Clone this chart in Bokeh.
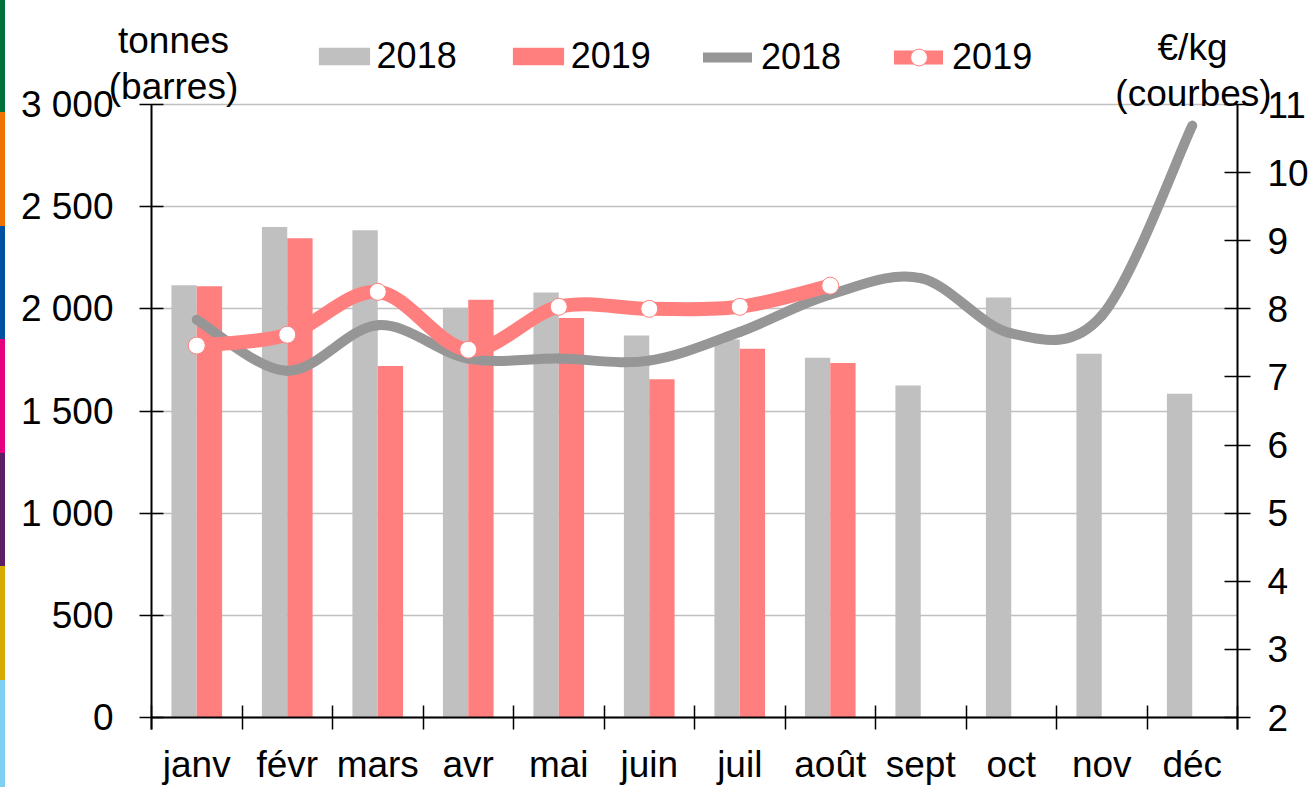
from bokeh.plotting import figure
from bokeh.models import (Range1d, LinearAxis, FixedTicker, Legend, LegendItem,
                          Label, ColumnDataSource)
from bokeh.embed import file_html
from bokeh.resources import INLINE

# ---------------- data ----------------
months = ["janv", "févr", "mars", "avr", "mai", "juin", "juil", "août",
          "sept", "oct", "nov", "déc"]
tonnes_2018 = [2115, 2400, 2385, 2005, 2080, 1870, 1850, 1760, 1625, 2055, 1780, 1585]
tonnes_2019 = [2110, 2345, 1720, 2045, 1955, 1655, 1805, 1735]
prix_2018 = [7.84, 7.09, 7.76, 7.27, 7.27, 7.24, 7.66, 8.21, 8.45, 7.64, 7.90, 10.69]
prix_2019 = [7.46, 7.62, 8.25, 7.40, 8.03, 8.00, 8.03, 8.34]
left_ticks = [0, 500, 1000, 1500, 2000, 2500, 3000]
left_labels = ["0", "500", "1 000", "1 500", "2 000", "2 500", "3 000"]
right_ticks = [2, 3, 4, 5, 6, 7, 8, 9, 10, 11]
series_labels = ["2018", "2019"]

FONT = "Liberation Sans"
GRAY_BAR = "#c0c0c0"
RED = "#ff7f7f"
GRAY_LINE = "#969696"

# ---------------- layout (pixels) ----------------
W, H = 1309, 787
AX_L, AX_R, AX_T, AX_B = 151, 1237, 104, 717   # where the axes sit on the canvas
N = len(months)
# The frame covers the whole canvas so that nothing (legend, axis titles, tick
# labels) is clipped; the three axes are pinned at their data positions.
px_per_x = (AX_R - AX_L) / N
x_lo = -AX_L / px_per_x
x_hi = N + (W - AX_R) / px_per_x
L_LO, L_HI = left_ticks[0], left_ticks[-1]
R_LO, R_HI = right_ticks[0], right_ticks[-1]
l_per_px = (L_HI - L_LO) / (AX_B - AX_T)
r_per_px = (R_HI - R_LO) / (AX_B - AX_T)
l_range = (L_LO - l_per_px * (H - AX_B), L_LO + l_per_px * AX_B)
r_range = (R_LO - r_per_px * (H - AX_B), R_LO + r_per_px * AX_B)
TICK = 12

centers = [i + 0.5 for i in range(N)]
bar_w = 0.28

p = figure(width=W, height=H, output_backend="svg", toolbar_location=None,
           x_range=Range1d(x_lo, x_hi), y_range=Range1d(*l_range),
           min_border_left=0, min_border_right=0, min_border_top=0,
           min_border_bottom=0)
p.title.visible = False
p.outline_line_color = None
p.background_fill_color = None
p.border_fill_color = None
p.styles = {
    "background-color": "white",
    "background-image": ("linear-gradient(to bottom, #00703c 0px, #00703c 112px, "
                         "#f07000 112px, #f07000 226px, #0050a0 226px, #0050a0 339px, "
                         "#e6007e 339px, #e6007e 453px, #5a1e64 453px, #5a1e64 566px, "
                         "#d7aa00 566px, #d7aa00 680px, #80d0f5 680px, #80d0f5 787px)"),
    "background-size": "5px 100%",
    "background-repeat": "no-repeat",
}
p.extra_y_ranges = {"prix": Range1d(*r_range)}

# grid (only between the two value axes)
p.xgrid.visible = False
p.ygrid.ticker = FixedTicker(ticks=left_ticks)
p.ygrid.grid_line_color = "#c0c0c0"
p.ygrid.grid_line_width = 1.3
try:
    p.ygrid.cross_bounds = (0, N)
except AttributeError:
    p.ygrid.visible = False
    p.segment(x0=[0] * len(left_ticks), x1=[N] * len(left_ticks), y0=left_ticks,
              y1=left_ticks, line_color="#c0c0c0", line_width=1.3)

# left axis
ya = p.yaxis[0]
ya.ticker = FixedTicker(ticks=left_ticks)
ya.fixed_location = 0
ya.bounds = (L_LO - TICK * l_per_px, L_HI)
ya.major_label_overrides = {t: l for t, l in zip(left_ticks, left_labels)}
ya.major_tick_in = TICK
ya.major_tick_out = TICK
ya.minor_tick_line_color = None
ya.axis_line_width = 2
ya.major_tick_line_width = 1.5
ya.major_label_standoff = 26
ya.major_label_text_font = FONT
ya.major_label_text_font_size = "37px"
ya.major_label_text_color = "black"

# right axis
ra = LinearAxis(y_range_name="prix", ticker=FixedTicker(ticks=right_ticks),
                fixed_location=N, bounds=(R_LO - TICK * r_per_px, R_HI))
ra.major_tick_in = 13
ra.major_tick_out = 13
ra.minor_tick_line_color = None
ra.axis_line_width = 2
ra.major_tick_line_width = 1.5
ra.major_label_standoff = 17
ra.major_label_text_font = FONT
ra.major_label_text_font_size = "37px"
ra.major_label_text_color = "black"
p.add_layout(ra, "right")

# bottom axis
xa = p.xaxis[0]
xa.fixed_location = L_LO
xa.bounds = (0, N)
xa.ticker = FixedTicker(ticks=centers, minor_ticks=list(range(N + 1)))
xa.major_label_overrides = {c: m for c, m in zip(centers, months)}
xa.major_tick_in = 0
xa.major_tick_out = 0
xa.minor_tick_in = TICK
xa.minor_tick_out = TICK
xa.minor_tick_line_color = "black"
xa.minor_tick_line_width = 1.5
xa.axis_line_width = 2
xa.major_label_standoff = 14
xa.major_label_text_font = FONT
xa.major_label_text_font_size = "37px"
xa.major_label_text_color = "black"

# bars
src18 = ColumnDataSource(dict(x=[c - bar_w / 2 for c in centers], top=tonnes_2018))
src19 = ColumnDataSource(dict(x=[c + bar_w / 2 for c in centers[:len(tonnes_2019)]],
                              top=tonnes_2019))
b18 = p.vbar(x="x", top="top", bottom=L_LO, width=bar_w, source=src18,
             fill_color=GRAY_BAR, line_color=None)
b19 = p.vbar(x="x", top="top", bottom=L_LO, width=bar_w, source=src19,
             fill_color=RED, line_color=None)


# smoothed curves (cubic Bezier segments through the data points)
def smooth(xs, ys):
    n = len(xs)
    d = dict(x0=[], y0=[], x1=[], y1=[], cx0=[], cy0=[], cx1=[], cy1=[])
    for i in range(n - 1):
        a = i - 1 if i > 0 else i
        b = i + 2 if i + 2 < n else i + 1
        d["x0"].append(xs[i]); d["y0"].append(ys[i])
        d["x1"].append(xs[i + 1]); d["y1"].append(ys[i + 1])
        d["cx0"].append(xs[i] + (xs[i + 1] - xs[a]) / 6)
        d["cy0"].append(ys[i] + (ys[i + 1] - ys[a]) / 6)
        d["cx1"].append(xs[i + 1] - (xs[b] - xs[i]) / 6)
        d["cy1"].append(ys[i + 1] - (ys[b] - ys[i]) / 6)
    return ColumnDataSource(d)


l18 = p.bezier(x0="x0", y0="y0", x1="x1", y1="y1", cx0="cx0", cy0="cy0",
               cx1="cx1", cy1="cy1", source=smooth(centers, prix_2018),
               y_range_name="prix", line_color=GRAY_LINE, line_width=10,
               line_cap="round")
l19 = p.bezier(x0="x0", y0="y0", x1="x1", y1="y1", cx0="cx0", cy0="cy0",
               cx1="cx1", cy1="cy1",
               source=smooth(centers[:len(prix_2019)], prix_2019),
               y_range_name="prix", line_color=RED, line_width=14,
               line_cap="round")
m19 = p.scatter(x=centers[:len(prix_2019)], y=prix_2019, y_range_name="prix",
                marker="circle", size=17, fill_color="white", line_color=RED,
                line_width=1)


# legends (location = bottom-left corner, pixels from the frame's bottom-left)
def make_legend(items, x, y, gw, gh, standoff, spacing):
    lg = Legend(items=items, location=(x, y), orientation="horizontal",
                glyph_width=gw, glyph_height=gh, label_standoff=standoff,
                spacing=spacing, padding=0, margin=0, border_line_color=None,
                background_fill_alpha=0, label_text_font=FONT,
                label_text_font_size="36px", label_text_color="black")
    p.add_layout(lg)
    return lg


make_legend([LegendItem(label=series_labels[0], renderers=[b18]),
             LegendItem(label=series_labels[1], renderers=[b19])],
            311.6, H - 77, 64, 22, 1, 49)
make_legend([LegendItem(label=series_labels[0], renderers=[l18]),
             LegendItem(label=series_labels[1], renderers=[l19, m19])],
            703, H - 78, 49, 42, 9, 53)

# axis titles
for txt, px, py in [("tonnes", 173, 40), ("(barres)", 173, 86),
                    ("€/kg", 1192, 47), ("(courbes)", 1193, 93)]:
    p.add_layout(Label(x=px, y=H - py, x_units="screen", y_units="screen",
                       text=txt, text_font=FONT, text_font_size="37px",
                       text_color="black", text_align="center",
                       text_baseline="alphabetic"))

open("out.html", "w").write(file_html(p, INLINE))
